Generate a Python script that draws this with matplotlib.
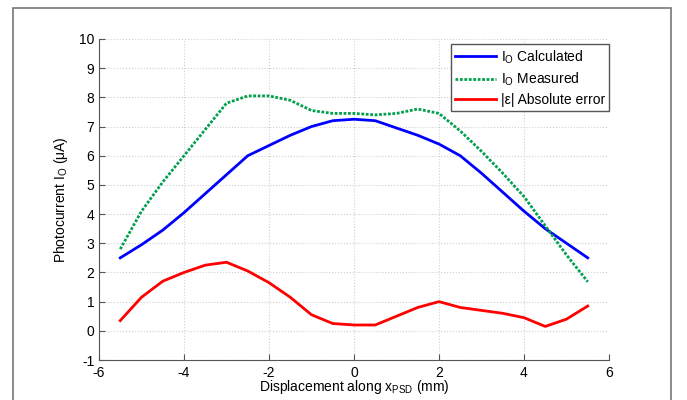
import numpy as np
import matplotlib
matplotlib.use("Agg")
import matplotlib.pyplot as plt
from matplotlib.patches import Rectangle

plt.rcParams['font.family'] = ['Liberation Sans', 'DejaVu Sans']
plt.rcParams['mathtext.fontset'] = 'custom'
plt.rcParams['mathtext.rm'] = 'Liberation Sans'
plt.rcParams['mathtext.it'] = 'Liberation Sans'
plt.rcParams['axes.unicode_minus'] = False

# displacement (mm)
x_mm = [-5.5, -5.0, -4.5, -4.0, -3.5, -3.0, -2.5, -2.0, -1.5, -1.0, -0.5, 0.0,
        0.5, 1.0, 1.5, 2.0, 2.5, 3.0, 3.5, 4.0, 4.5, 5.0, 5.5]
# photocurrent (uA)
io_calc = [2.5, 2.95, 3.45, 4.05, 4.7, 5.35, 6.0, 6.35, 6.7, 7.0, 7.2, 7.25,
           7.2, 6.95, 6.7, 6.4, 6.0, 5.4, 4.75, 4.1, 3.5, 3.0, 2.5]
io_meas = [2.8, 4.1, 5.1, 6.0, 6.9, 7.8, 8.05, 8.05, 7.9, 7.55, 7.45, 7.45,
           7.4, 7.45, 7.6, 7.45, 6.85, 6.15, 5.4, 4.6, 3.6, 2.6, 1.68]
abs_err = [0.35, 1.15, 1.7, 2.0, 2.25, 2.35, 2.05, 1.65, 1.15, 0.55, 0.25, 0.2,
           0.2, 0.5, 0.8, 1.0, 0.8, 0.7, 0.6, 0.45, 0.15, 0.4, 0.85]

fig = plt.figure(figsize=(6.87, 4.0), dpi=100)
ax = fig.add_axes([99/687, 0.1, 510/687, 0.8025])

# outer frame round the figure
fig.patches.append(Rectangle((13/687, -0.05), 658/687, 1.05 - 8/400, transform=fig.transFigure,
                             fill=False, edgecolor='#777777', lw=1.2))

ax.plot(x_mm, io_calc, color='#0000ff', lw=2, label=r'$\mathregular{I_O}$ Calculated')
ax.plot(x_mm, io_meas, color='#00a04c', lw=2, linestyle=(0, (1, 0.6)), label=r'$\mathregular{I_O}$ Measured')
ax.plot(x_mm, abs_err, color='#ff0000', lw=2, label='|ε| Absolute error')

ax.set_xlim(-6, 6)
ax.set_ylim(-1, 10)
ax.set_xticks(range(-6, 7, 2))
ax.set_yticks(range(-1, 11))
ax.grid(True, color='#d0d0d0', linestyle=':', lw=0.8)
for s in ['top', 'right']:
    ax.spines[s].set_visible(False)
for s in ['left', 'bottom']:
    ax.spines[s].set_color('#555555')
ax.tick_params(direction='in', length=4, colors='#555555', labelcolor='black', labelsize=10)
ax.tick_params(axis='x', pad=4)

ax.set_xlabel(r'Displacement along x$\mathregular{_{PSD}}$ (mm)', fontsize=10, labelpad=-1)
ax.set_ylabel(r'Photocurrent I$\mathregular{_O}$ ($\mathregular{\mu}$A)', fontsize=10, labelpad=6)

leg = ax.legend(loc='upper right', bbox_to_anchor=(1.0, 1 - 5/320), fontsize=10, fancybox=False,
                framealpha=1, edgecolor='#555555', handlelength=2.9, borderpad=0.3,
                labelspacing=0.35, handletextpad=0.35, borderaxespad=0)
leg.get_frame().set_linewidth(1.0)

fig.savefig('out.png', dpi=100)
